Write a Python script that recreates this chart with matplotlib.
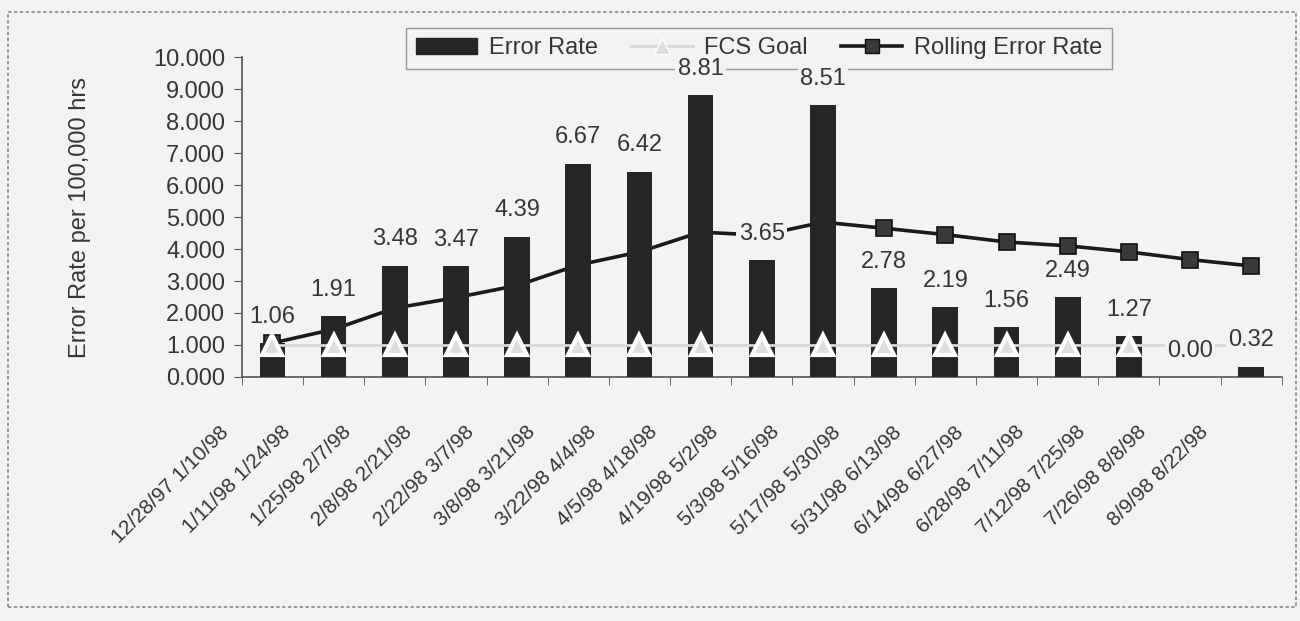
import numpy as np
import matplotlib.pyplot as plt
from matplotlib.patches import Rectangle, Patch
from matplotlib.lines import Line2D
from matplotlib.transforms import ScaledTranslation

plt.rcParams['font.family'] = ['Liberation Sans', 'DejaVu Sans']

periods = ["12/28/97 1/10/98", "1/11/98 1/24/98", "1/25/98 2/7/98", "2/8/98 2/21/98",
           "2/22/98 3/7/98", "3/8/98 3/21/98", "3/22/98 4/4/98", "4/5/98 4/18/98",
           "4/19/98 5/2/98", "5/3/98 5/16/98", "5/17/98 5/30/98", "5/31/98 6/13/98",
           "6/14/98 6/27/98", "6/28/98 7/11/98", "7/12/98 7/25/98", "7/26/98 8/8/98",
           "8/9/98 8/22/98"]
error_rate = [1.06, 1.91, 3.48, 3.47, 4.39, 6.67, 6.42, 8.81, 3.65, 8.51,
              2.78, 2.19, 1.56, 2.49, 1.27, 0.00, 0.32]
fcs_goal = [1.0] * 17
rolling_rate = [1.06, 1.49, 2.15, 2.48, 2.86, 3.50, 3.91, 4.53, 4.43, 4.84,
                4.65, 4.45, 4.22, 4.10, 3.91, 3.67, 3.47]

bg = '#f3f3f3'
ink = '#363636'
bar_col = '#262626'

fig = plt.figure(figsize=(13, 6.21), dpi=100, facecolor=bg)
ax = fig.add_axes([0.186, 0.393, 0.800, 0.515], facecolor=bg)

x = np.arange(len(periods))

# rolling rate sits behind the bars
ax.plot(x, rolling_rate, color='#1a1a1a', lw=2.6, marker='s', ms=12,
        mfc='#3a3a3a', mec='#111111', mew=1.2, zorder=2)
ax.bar(x, error_rate, width=0.42, color=bar_col, zorder=3)
ax.plot(x, fcs_goal, color='#d6d6d6', lw=2, marker='^', ms=15,
        mfc='#dedede', mec='white', mew=3, markevery=list(range(15)), zorder=4)

for xi, v in zip(x, error_rate):
    ax.annotate(f'{v:.2f}', (xi, v), xytext=(0, 11), textcoords='offset points',
                ha='center', va='bottom', fontsize=17, color=ink, zorder=7,
                bbox=dict(boxstyle='square,pad=0.1', fc=bg, ec='none'))

ax.set_xlim(-0.5, len(periods) - 0.5)
ax.set_ylim(0, 10)
ax.set_yticks(np.arange(0, 11, 1))
ax.set_yticklabels([f'{t:.3f}' for t in range(11)])
ax.set_xticks(x)
ax.set_xticklabels(periods, rotation=45, ha='right', rotation_mode='anchor')
ax.set_xticks(np.arange(-0.5, len(periods), 1), minor=True)
ax.tick_params(axis='x', which='major', length=0, pad=22, labelsize=15, labelcolor=ink)
ax.tick_params(axis='x', which='minor', length=6, color='#555555', direction='out')
ax.tick_params(axis='y', length=6, color='#555555', labelsize=17, labelcolor=ink, pad=6)
ax.set_ylabel('Error Rate per 100,000 hrs', fontsize=17, color=ink, labelpad=45)

# date labels hang left of their category, as in the spreadsheet layout
shift = ScaledTranslation(-0.53, -0.15, fig.dpi_scale_trans)
for lbl in ax.get_xticklabels():
    lbl.set_transform(lbl.get_transform() + shift)

for s in ('top', 'right'):
    ax.spines[s].set_visible(False)
for s in ('left', 'bottom'):
    ax.spines[s].set_color('#555555')
    ax.spines[s].set_linewidth(1.2)

handles = [
    Patch(facecolor=bar_col, edgecolor=bar_col),
    Line2D([], [], color='#d6d6d6', lw=2, marker='^', ms=12, mfc='#dedede', mec='white'),
    Line2D([], [], color='#1a1a1a', lw=2.6, marker='s', ms=10, mfc='#3a3a3a', mec='#111111'),
]
leg = ax.legend(handles, ['Error Rate', 'FCS Goal', 'Rolling Error Rate'],
                loc='upper center', bbox_to_anchor=(0.584, 0.955),
                bbox_transform=fig.transFigure, borderaxespad=0, ncol=3,
                fontsize=17, frameon=True, fancybox=False, handlelength=2.6,
                columnspacing=1.4, handletextpad=0.5, borderpad=0.4)
leg.set_zorder(5)
leg.get_frame().set_facecolor(bg)
leg.get_frame().set_edgecolor('#808080')
leg.get_frame().set_linewidth(1.0)
for t in leg.get_texts():
    t.set_color(ink)

# dotted frame around the whole chart
fig.patches.append(Rectangle((0.006, 0.022), 0.991, 0.958, transform=fig.transFigure,
                             fill=False, ec='#888888', lw=1.2, ls=(0, (2, 1.5))))

fig.savefig('out.png', dpi=100, facecolor=bg)
